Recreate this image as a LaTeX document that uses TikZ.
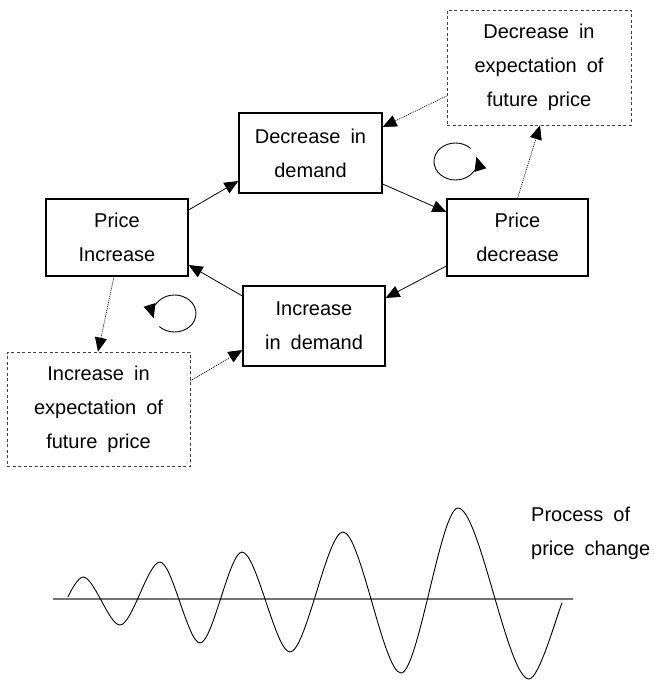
\documentclass[tikz,border=0pt]{standalone}
\usepackage{fontspec}
\setmainfont{Liberation Sans}[WordSpace=1.8]
\usetikzlibrary{arrows.meta,calc}
\tikzset{
  txt/.style={font=\fontsize{20}{34}\selectfont, align=center, inner sep=0pt},
  mainbox/.style={txt, draw=black, line width=1.2pt},
  dashbox/.style={txt, draw=black!75, line width=0.8pt, dash pattern=on 3pt off 2.5pt},
  tipA/.style={-{Triangle[length=14pt,width=12pt]}},
  solidarrow/.style={tipA, line width=0.8pt},
  dotarrow/.style={tipA, line width=0.7pt, dash pattern=on 1pt off 1pt},
  loop/.style={tipA, line width=0.9pt},
  wave/.style={line width=0.9pt, black},
  axis/.style={line width=1.6pt, black!55}
}
\begin{document}
\begin{tikzpicture}[x=1pt,y=-1pt]
\useasboundingbox (0,0) rectangle (653,682);
% boxes
\node[mainbox, minimum width=143pt, minimum height=80pt] (DD) at (310.5,153) {Decrease in\\demand};
\node[mainbox, minimum width=142pt, minimum height=77pt] (PI) at (117,237.5) {Price\\Increase};
\node[mainbox, minimum width=141pt, minimum height=77pt] (PD) at (517.5,237.5) {Price\\decrease};
\node[mainbox, minimum width=142pt, minimum height=80pt] (ID) at (314,326) {Increase\\in demand};
\node[dashbox, minimum width=184pt, minimum height=115pt] (DE) at (539,67.5) {Decrease in\\expectation of\\future price};
\node[dashbox, minimum width=183pt, minimum height=114pt] (IE) at (98.5,409) {Increase in\\expectation of\\future price};
% main cycle
\draw[solidarrow] ($(PI.east)+(0,-27.5)$) -- ($(DD.west)+(0,28)$);
\draw[solidarrow] ($(DD.east)+(0,31)$) -- ($(PD.west)+(0,-25.5)$);
\draw[solidarrow] ($(PD.west)+(0,28.5)$) -- ($(ID.east)+(0,-28)$);
\draw[solidarrow] ($(ID.west)+(0,-30)$) -- ($(PI.east)+(0,27.5)$);
% expectation links
\draw[dotarrow] ($(PI.south)+(-3,0)$) -- ($(IE.north)+(-0.5,0)$);
\draw[dotarrow] ($(IE.east)+(0,-28)$) -- ($(ID.west)+(0,24)$);
\draw[dotarrow] (PD.north) -- ($(DE.south)+(1,0)$);
\draw[dotarrow] ($(DE.west)+(0,28.5)$) -- ($(DD.east)+(0,-26)$);
% rotation marks
\coordinate (c1) at (455.5,161.5);
\coordinate (c2) at (174.5,313.5);
\draw[loop] ($(c1)+(-45:21.5 and 18.5)$) arc[start angle=-45, end angle=-375, x radius=21.5, y radius=18.5];
\draw[loop] ($(c2)+(-225:21.5 and 18.5)$) arc[start angle=-225, end angle=-555, x radius=21.5, y radius=18.5];
% price change process
\coordinate (a1) at (53,599);
\coordinate (a2) at (573,599);
\draw[axis] (a1) -- (a2);
\draw[wave] (68,597) .. controls (71,590) and (78.5,577) .. (83,577)
  .. controls (94.1,577) and (108.9,625) .. (120,625)
  .. controls (132,625) and (148,562) .. (160,562)
  .. controls (172,562) and (188,643) .. (200,643)
  .. controls (212.6,643) and (229.4,552) .. (242,552)
  .. controls (256.4,552) and (275.6,652) .. (290,652)
  .. controls (305.9,652) and (327.1,532) .. (343,532)
  .. controls (360.4,532) and (383.6,673) .. (401,673)
  .. controls (418.1,673) and (440.9,508) .. (458,508)
  .. controls (479.3,508) and (507.7,679) .. (529,679)
  .. controls (539,679) and (556,618) .. (562,603);
\node[txt, align=left, anchor=north west] (lbl) at (531,506.5) {Process of\\price change};
\end{tikzpicture}
\end{document}
